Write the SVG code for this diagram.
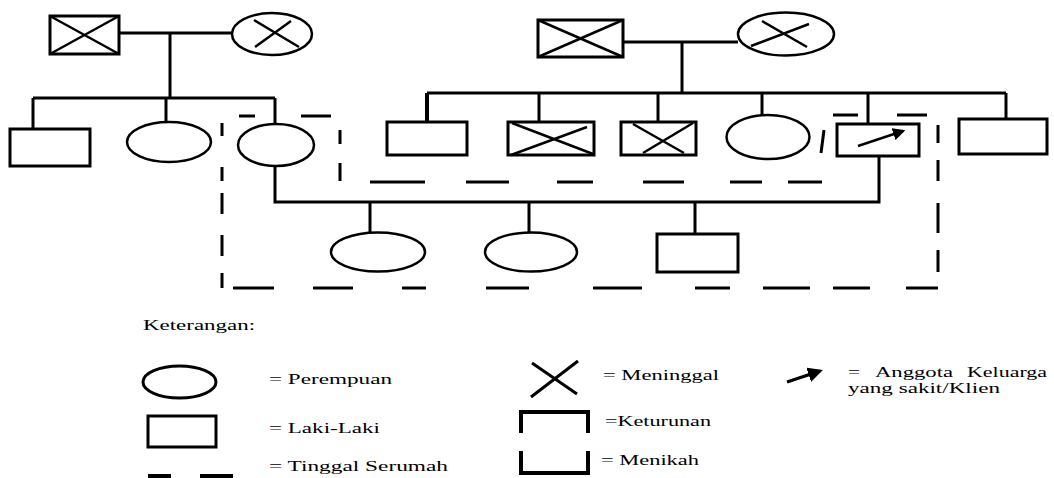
<svg xmlns="http://www.w3.org/2000/svg" width="1054" height="478" viewBox="0 0 1054 478">
<style>
.s{fill:#fff;stroke:#000;stroke-width:3}
.e{fill:#fff;stroke:#000;stroke-width:2.5}
.x{stroke:#000;stroke-width:2.5;fill:none}
.c{stroke:#000;stroke-width:3;fill:none}
.d{stroke:#000;stroke-width:3;fill:none}
.t{font-family:"Liberation Serif","Times New Roman",serif;font-size:15px;fill:#000}
</style>
<defs>
<marker id="ah" viewBox="0 0 10 10" refX="8" refY="5" markerWidth="5" markerHeight="5" orient="auto" markerUnits="strokeWidth">
<path d="M0,0 L10,5 L0,10 z" fill="#000"/>
</marker>
</defs>
<rect width="1054" height="478" fill="#fff"/>
<g id="connectors">
<path class="c" d="M119,33 H232"/>
<path class="c" d="M170,33 V98"/>
<path class="c" d="M33,98 H275"/>
<path class="c" d="M33,98 V129"/>
<path class="c" d="M166,98 V122"/>
<path class="c" d="M275,98 V124"/>
<path class="c" d="M623,42 H738"/>
<path class="c" d="M682,42 V93"/>
<path class="c" d="M427,93 H1006"/>
<path class="c" d="M427,93 V122" style="stroke-width:4"/>
<path class="c" d="M539,93 V122"/>
<path class="c" d="M658,93 V122"/>
<path class="c" d="M762,93 V116"/>
<path class="c" d="M868,93 V124"/>
<path class="c" d="M1006,93 V119"/>
<path class="c" d="M275,166 V202 H879 V156"/>
<path class="c" d="M370,202 V233"/>
<path class="c" d="M529,202 V233"/>
<path class="c" d="M695,202 V234"/>
</g>
<g id="m1"><rect class="s" x="50" y="16" width="69" height="38"/><path class="x" d="M50,16 L119,54 M50,54 L119,16"/></g>
<g id="f1"><ellipse class="e" cx="272" cy="34" rx="40" ry="21"/><path class="x" d="M254,20 L299,47 M255,47 L291,21"/></g>
<g id="c1"><rect class="s" x="10" y="129" width="80" height="37"/></g>
<g id="c2"><ellipse class="e" cx="169" cy="142" rx="42" ry="20"/></g>
<g id="c3"><ellipse class="e" cx="276" cy="145" rx="38" ry="21"/></g>
<g id="m2"><rect class="s" x="538" y="20" width="85" height="37"/><path class="x" d="M538,20 L623,57 M538,57 L623,20"/></g>
<g id="f2"><ellipse class="e" cx="786" cy="34" rx="48" ry="21.5"/><path class="x" d="M762,21 L807,47 M751,46 L809,24"/></g>
<g id="s1"><rect class="s" x="387" y="122" width="80" height="33"/></g>
<g id="s2"><rect class="s" x="508" y="122" width="86" height="33"/><path class="x" d="M512,123 L593,154 M511,155 L587,127"/></g>
<g id="s3"><rect class="s" x="621" y="122" width="75" height="33"/><path class="x" d="M633,124 L684,153 M643,153 L693,123"/></g>
<g id="s4"><ellipse class="e" cx="768" cy="137" rx="41.5" ry="22"/></g>
<g id="s5"><rect class="s" x="837" y="124" width="82" height="32"/><path class="x" d="M858,146 L903,131" marker-end="url(#ah)"/></g>
<g id="s6"><rect class="s" x="959" y="119" width="88" height="35"/></g>
<g id="g1"><ellipse class="e" cx="378" cy="252" rx="47" ry="19.5"/></g>
<g id="g2"><ellipse class="e" cx="531" cy="252" rx="46" ry="19.5"/></g>
<g id="g3"><rect class="s" x="657" y="234" width="81" height="38"/></g>
<g id="household">
<path class="d" d="M239,116 H255 M301,116 H331"/>
<path class="d" d="M222,123 V136 M222,167 V181 M222,193 V214 M222,235 V256 M222,273 V288"/>
<path class="d" d="M340,130 V144 M340,163 V181"/>
<path class="d" d="M370,182 H425 M466,182 H509 M557,182 H593 M643,182 H684 M730,182 H762 M788,182 H822"/>
<path class="d" d="M824,130 L821,153"/>
<path class="d" d="M833,115 H858 M897,115 H927"/>
<path class="d" d="M938,125 V143 M938,160 V181 M938,203 V233 M938,250 V272"/>
<path class="d" d="M233,288 H274 M313,288 H353 M402,288 H426 M486,288 H529 M593,288 H642 M695,288 H730 M763,288 H810 M833,288 H870 M906,288 H938"/>
</g>
<g id="legend">
<text class="t" x="143" y="330" textLength="112" lengthAdjust="spacingAndGlyphs">Keterangan:</text>
<ellipse class="s" cx="179.5" cy="382" rx="36.5" ry="16"/>
<text class="t" x="269" y="384" textLength="123" lengthAdjust="spacingAndGlyphs">= Perempuan</text>
<rect class="s" x="148" y="416" width="68" height="31"/>
<text class="t" x="269" y="433" textLength="111" lengthAdjust="spacingAndGlyphs">= Laki-Laki</text>
<text class="t" x="269" y="471" textLength="179" lengthAdjust="spacingAndGlyphs">= Tinggal Serumah</text>
<path d="M148,476 H171 M200,476 H233" stroke="#000" stroke-width="4"/>
<path class="x" d="M531,397 L578,361 M532,363 L577,394" style="stroke-width:3"/>
<text class="t" x="603" y="380" textLength="116" lengthAdjust="spacingAndGlyphs">= Meninggal</text>
<path d="M521,433 V412 H588 V433" stroke="#000" stroke-width="4" fill="none"/>
<text class="t" x="605" y="426" textLength="106" lengthAdjust="spacingAndGlyphs">=Keturunan</text>
<path d="M521,451 V473 H588 V451" stroke="#000" stroke-width="4" fill="none"/>
<text class="t" x="601" y="465" textLength="98" lengthAdjust="spacingAndGlyphs">= Menikah</text>
<path d="M787,382 L820,371" stroke="#000" stroke-width="3" fill="none" marker-end="url(#ah)"/>
<text class="t" y="377"><tspan x="848" textLength="12" lengthAdjust="spacingAndGlyphs">=</tspan> <tspan x="875" textLength="78" lengthAdjust="spacingAndGlyphs">Anggota</tspan> <tspan x="967" textLength="80" lengthAdjust="spacingAndGlyphs">Keluarga</tspan></text>
<text class="t" x="848" y="393" textLength="152" lengthAdjust="spacingAndGlyphs">yang sakit/Klien</text>
</g>
</svg>
